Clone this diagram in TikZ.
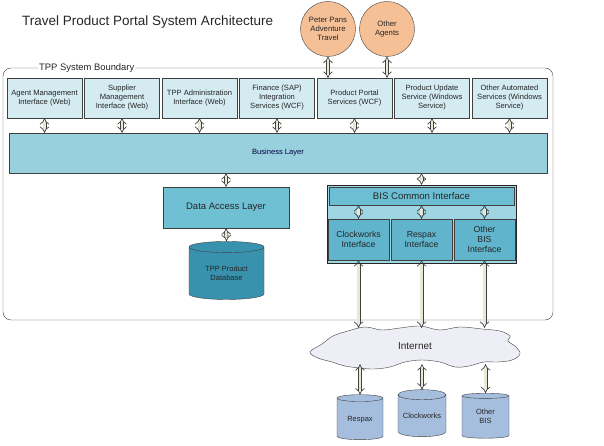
\documentclass[tikz,border=0pt]{standalone}
\usepackage{fontspec}
\setmainfont{Liberation Sans}
\usetikzlibrary{positioning,shapes.geometric,arrows.meta}

\definecolor{boxfill}{RGB}{212,235,242}
\definecolor{bizfill}{RGB}{152,208,222}
\definecolor{dalfill}{RGB}{112,192,212}
\definecolor{dbfill}{RGB}{56,146,174}
\definecolor{bisfill}{RGB}{160,214,228}
\definecolor{cifill}{RGB}{108,190,210}
\definecolor{iffill}{RGB}{96,180,204}
\definecolor{agentfill}{RGB}{246,192,150}
\definecolor{cloudfill}{RGB}{238,238,246}
\definecolor{extfill}{RGB}{166,190,222}
\definecolor{arrowfill}{RGB}{232,232,214}
\definecolor{edge}{RGB}{64,64,64}

\newcommand{\dblabel}[1]{\raisebox{-3pt}{\begin{tabular}{@{}c@{}}#1\end{tabular}}}

\begin{document}
\begin{tikzpicture}[x=1pt,y=-1pt,
  every node/.style={align=center,text=black!85,inner sep=1pt},
  svcbox/.style={draw=edge,fill=boxfill,minimum width=75pt,minimum height=40pt,font=\fontsize{7.6}{9}\selectfont},
  ifbox/.style={draw=edge,fill=iffill,minimum width=61pt,minimum height=41pt,font=\fontsize{8.7}{10.2}\selectfont},
  agent/.style={circle,draw=edge,fill=agentfill,minimum size=55pt,font=\fontsize{7.7}{9}\selectfont},
  extdb/.style={cylinder,shape border rotate=90,aspect=0.25,draw=edge,fill=extfill,font=\fontsize{7.5}{8.8}\selectfont},
  link/.style={draw=edge,double=arrowfill,double distance=2.6pt,line width=0.7pt,{Implies}-{Implies}}]
\useasboundingbox (0,0) rectangle (604,446);

% title and boundary
\node[font=\fontsize{13.5}{15}\selectfont,anchor=west] (title) at (21,22) {Travel Product Portal System Architecture};
\draw[edge,rounded corners=8pt] (3,68) rectangle (553,320);
\node[fill=white,anchor=west,font=\fontsize{9.4}{10}\selectfont,inner sep=1pt] (bound) at (38,68) {TPP System Boundary};

% agents
\node[agent] (peter) at (328,29) {Peter Pans\\Adventure\\Travel};
\node[agent] (others) at (387,29) {Other\\Agents};

% services row
\node[svcbox] (agentif) at (44.5,98) {Agent Management\\Interface (Web)};
\node[svcbox] (supplier) at (122,98) {Supplier\\Management\\Interface (Web)};
\node[svcbox] (admin) at (199.5,98) {TPP Administration\\Interface (Web)};
\node[svcbox] (finance) at (277,98) {Finance (SAP)\\Integration\\Services (WCF)};
\node[svcbox] (portal) at (354.5,98) {Product Portal\\Services (WCF)};
\node[svcbox] (update) at (432,98) {Product Update\\Service (Windows\\Service)};
\node[svcbox] (auto) at (509.5,98) {Other Automated\\Services (Windows\\Service)};

% layers
\node[draw=edge,fill=bizfill,minimum width=538pt,minimum height=40pt,font=\fontsize{7.6}{9}\selectfont,text=black!75!blue] (biz) at (278,153) {Business Layer};
\node[draw=edge,fill=dalfill,minimum width=126pt,minimum height=41pt,font=\fontsize{9.5}{11}\selectfont] (dal) at (226,207.5) {Data Access Layer};
\node[cylinder,shape border rotate=90,aspect=0.25,draw=edge,fill=dbfill,minimum width=75pt,minimum height=58pt,font=\fontsize{7.5}{8.8}\selectfont] (tppdb) at (226.5,274) {\dblabel{TPP Product\\Database}};

% BIS block
\node[draw=black!85,fill=bisfill,minimum width=189pt,minimum height=78pt] (bis) at (421.5,224) {};
\node[draw=edge,fill=cifill,minimum width=185pt,minimum height=18pt,font=\fontsize{9.6}{11}\selectfont] (common) at (421.5,196) {BIS Common Interface};
\node[ifbox] (clockif) at (358.5,239.5) {Clockworks\\Interface};
\node[ifbox] (respaxif) at (421.5,239.5) {Respax\\Interface};
\node[ifbox] (otherif) at (484.5,239.5) {Other\\BIS\\Interface};

% internet
\draw[edge,fill=cloudfill] plot[smooth cycle,tension=0.6] coordinates {
  (310,352) (322,344) (333,336) (348,331) (365,327) (382,330) (400,328)
  (420,326) (440,330) (460,327) (482,329) (500,331) (510,336) (508,341)
  (516,347) (520,354) (512,360) (498,362) (484,362) (469,366) (455,367)
  (440,362) (422,360) (405,362) (390,367) (374,369) (360,368) (345,366)
  (332,362) (318,358)};
\node[minimum width=190pt,minimum height=36pt,font=\fontsize{10}{11}\selectfont] (inet) at (415,346) {Internet};

% external systems
\node[extdb,minimum width=46pt,minimum height=45pt] (respax) at (360,419.5) {\dblabel{Respax}};
\node[extdb,minimum width=48pt,minimum height=47pt] (clock) at (422,416.5) {\dblabel{Clockworks}};
\node[extdb,minimum width=47pt,minimum height=45pt] (otherbis) at (485.5,417.5) {\dblabel{Other\\BIS}};

% connectors
\draw[link] (peter.south) -- (peter.south |- portal.north);
\draw[link] (others.south) -- (others.south |- portal.north);
\draw[link] (agentif.south) -- (agentif.south |- biz.north);
\draw[link] (supplier.south) -- (supplier.south |- biz.north);
\draw[link] (admin.south) -- (admin.south |- biz.north);
\draw[link] (finance.south) -- (finance.south |- biz.north);
\draw[link] (portal.south) -- (portal.south |- biz.north);
\draw[link] (update.south) -- (update.south |- biz.north);
\draw[link] (auto.south) -- (auto.south |- biz.north);
\draw[link] (biz.south -| dal.north) -- (dal.north);
\draw[link] (dal.south) -- (tppdb.north);
\draw[link] (biz.south -| bis.north) -- (bis.north);
\draw[link] (common.south -| clockif.north) -- (clockif.north);
\draw[link] (common.south -| respaxif.north) -- (respaxif.north);
\draw[link] (common.south -| otherif.north) -- (otherif.north);
\draw[link] (clockif.south) -- (clockif.south |- inet.north);
\draw[link] (respaxif.south) -- (respaxif.south |- inet.north);
\draw[link] (otherif.south) -- (otherif.south |- inet.north);
\draw[link] (respax.north |- inet.south) -- (respax.north);
\draw[link] (clock.north |- inet.south) -- (clock.north);
\draw[link] (otherbis.north |- inet.south) -- (otherbis.north);
\end{tikzpicture}
\end{document}
